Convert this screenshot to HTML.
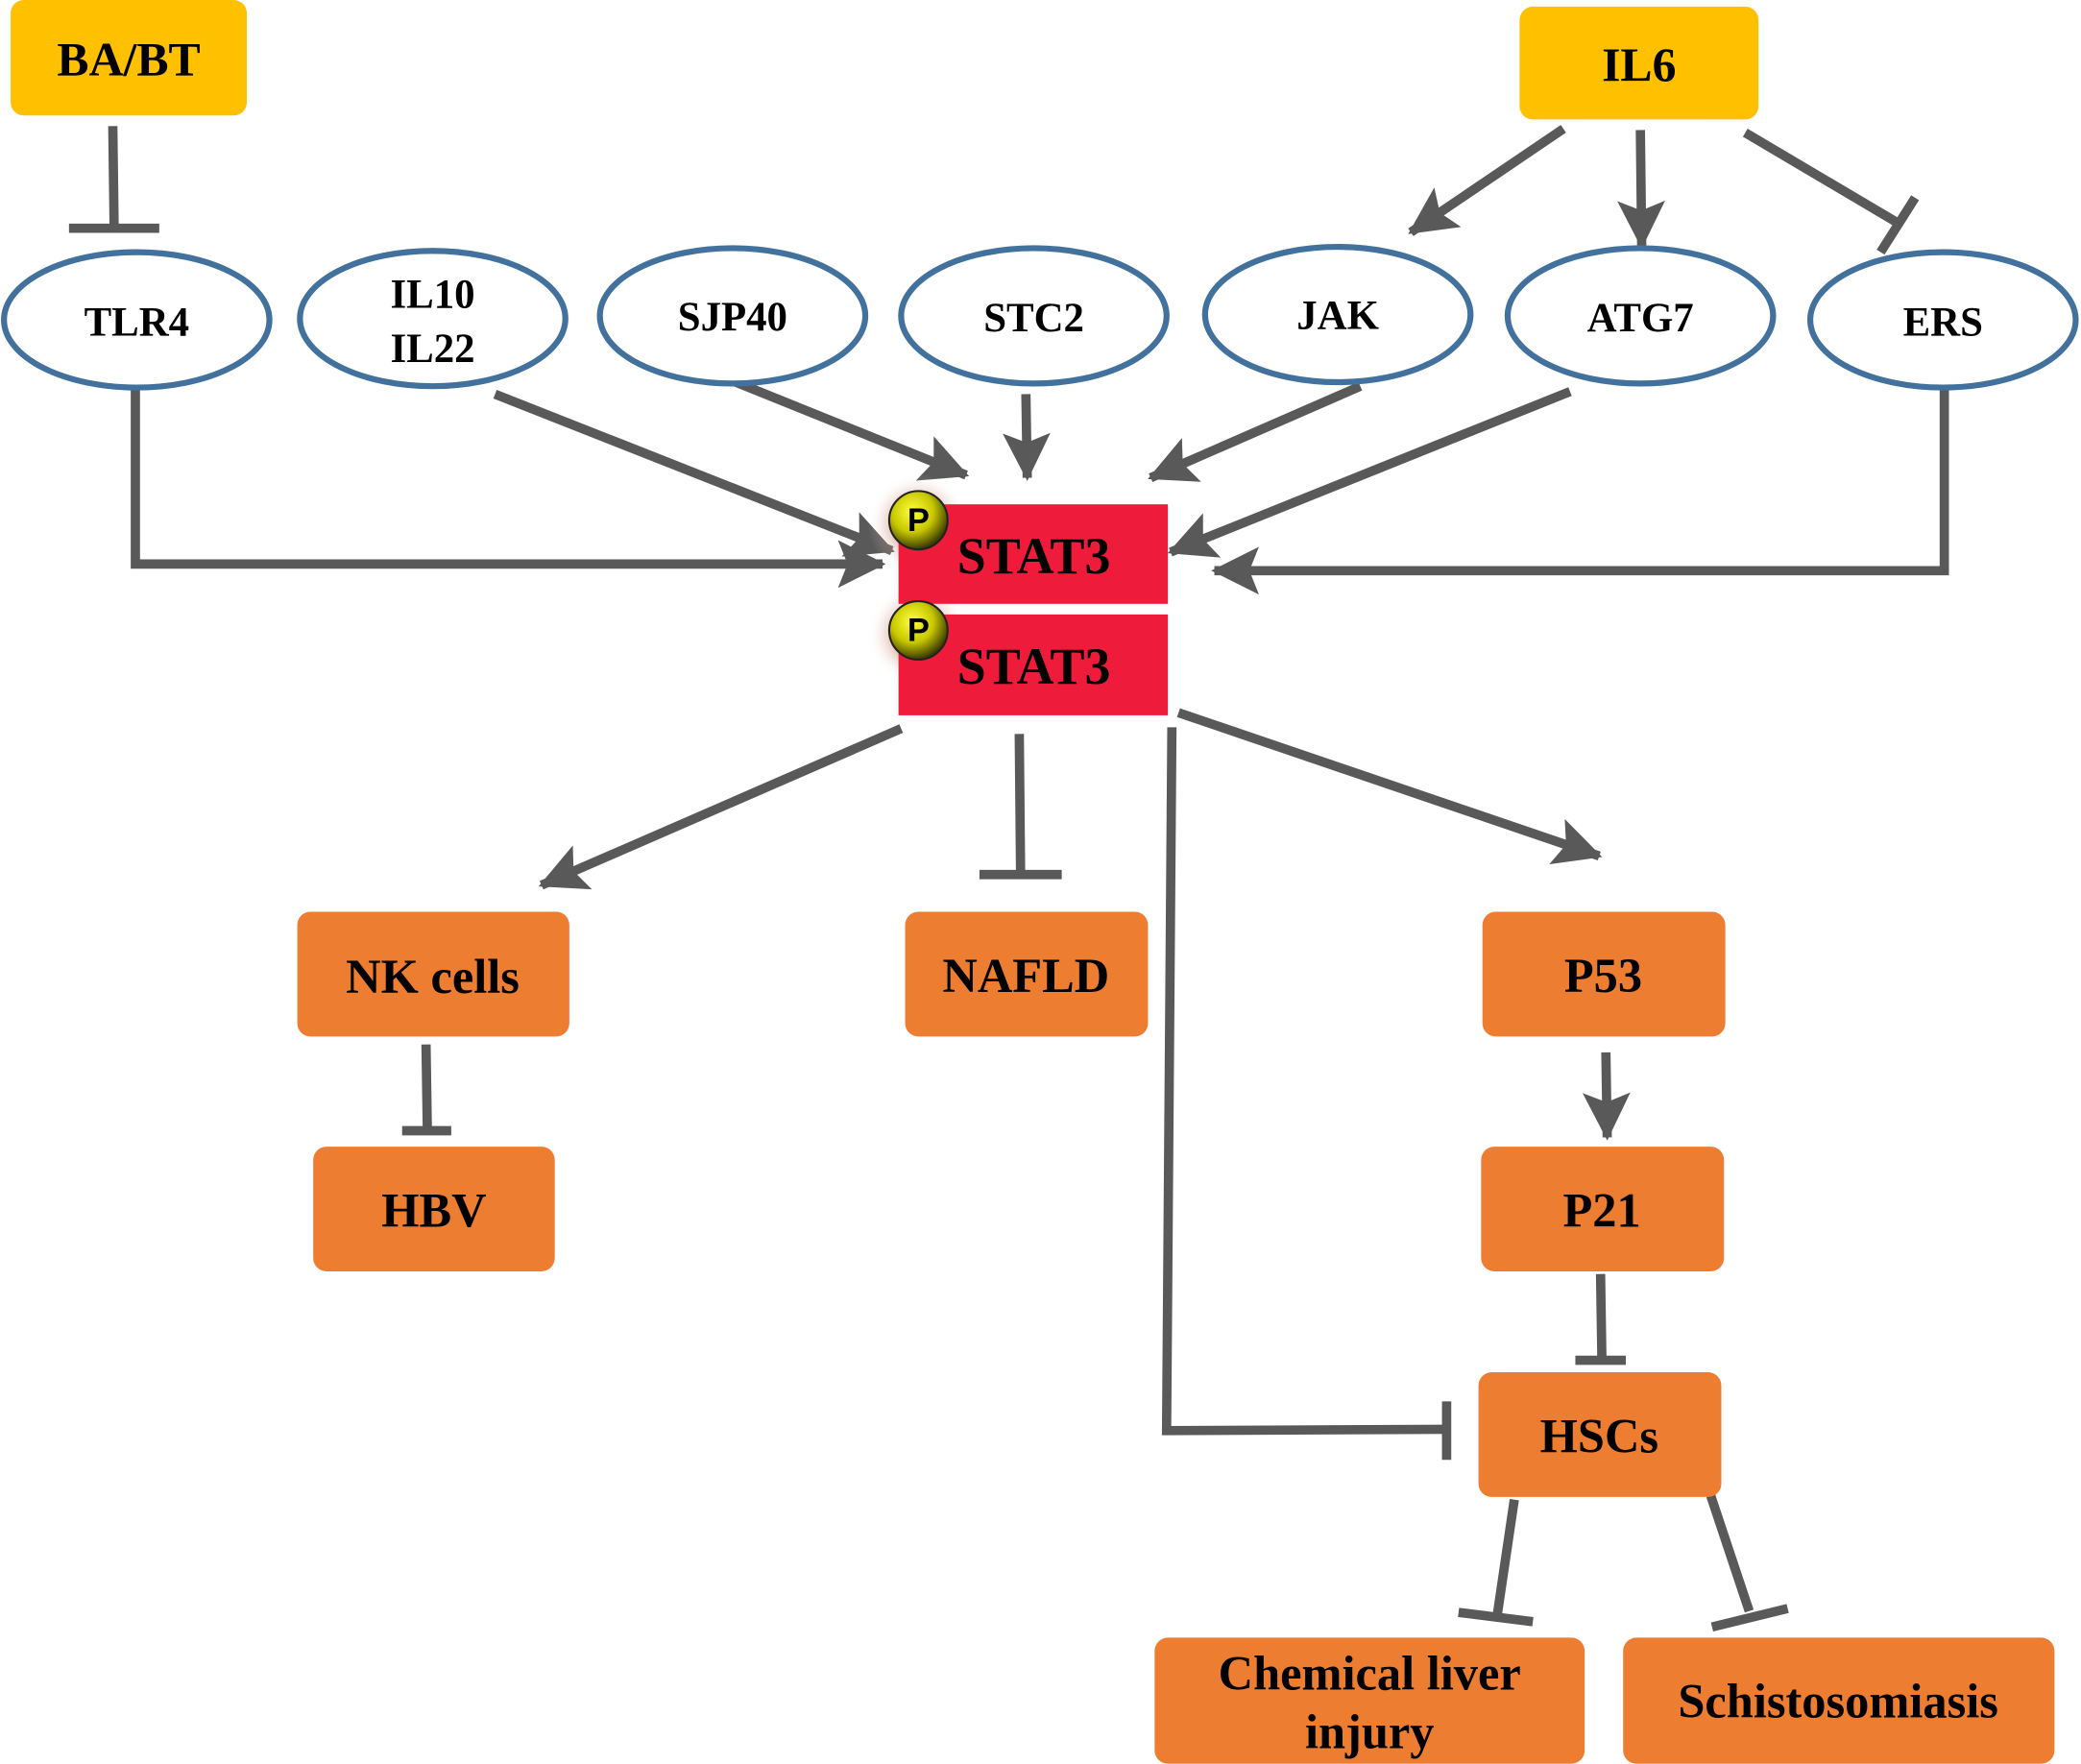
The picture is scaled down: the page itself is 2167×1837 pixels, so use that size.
<!DOCTYPE html>
<html><head><meta charset="utf-8"><style>
html,body{margin:0;padding:0;background:#fff}
svg{display:block}
text{font-family:"Liberation Serif",serif;font-weight:bold;fill:#000;text-anchor:middle;dominant-baseline:central}
</style></head><body>
<svg width="2167" height="1837" viewBox="0 0 1568 1329.2" xmlns="http://www.w3.org/2000/svg">
<defs>
<marker id="a" markerUnits="userSpaceOnUse" markerWidth="36" markerHeight="36" viewBox="0 0 30 30" refX="28" refY="15" orient="auto"><path d="M0,0 L30,15 L0,30 L6,15 Z" fill="#595959"/></marker>
<radialGradient id="pg" cx="40%" cy="35%" r="65%"><stop offset="0" stop-color="#ffff40"/><stop offset="0.55" stop-color="#c8c800"/><stop offset="1" stop-color="#3a3a00"/></radialGradient>
<radialGradient id="glow"><stop offset="0.4" stop-color="#b04020" stop-opacity="0.5"/><stop offset="1" stop-color="#ffffff" stop-opacity="0"/></radialGradient>
</defs>
<g stroke="#595959" stroke-width="7" fill="none">
<line x1="85" y1="95" x2="86" y2="172"/><line x1="52" y1="172" x2="120" y2="172"/>
<polyline points="102,293 102,425 665,425" marker-end="url(#a)"/>
<line x1="373" y1="297" x2="672" y2="415" marker-end="url(#a)"/>
<line x1="552" y1="287" x2="728" y2="358" marker-end="url(#a)"/>
<line x1="773" y1="297" x2="774" y2="360" marker-end="url(#a)"/>
<line x1="1025" y1="291" x2="867" y2="360" marker-end="url(#a)"/>
<line x1="1183" y1="295" x2="882" y2="416" marker-end="url(#a)"/>
<polyline points="1465,293 1465,430 915,430" marker-end="url(#a)"/>
<line x1="1178" y1="97" x2="1063" y2="175" marker-end="url(#a)"/>
<line x1="1236" y1="98" x2="1237" y2="185" marker-end="url(#a)"/>
<line x1="1315" y1="100" x2="1430" y2="168"/><line x1="1443" y1="149" x2="1417" y2="190"/>
<line x1="679" y1="549" x2="408" y2="667" marker-end="url(#a)"/>
<line x1="768" y1="553" x2="769" y2="659"/><line x1="738" y1="659" x2="800" y2="659"/>
<polyline points="883,548 879,1078 1090,1077"/><line x1="1090" y1="1056" x2="1090" y2="1100"/>
<line x1="888" y1="537" x2="1205" y2="645" marker-end="url(#a)"/>
<line x1="321" y1="787" x2="322" y2="852"/><line x1="303" y1="852" x2="340" y2="852"/>
<line x1="1210" y1="793" x2="1211" y2="857" marker-end="url(#a)"/>
<line x1="1206" y1="960" x2="1207" y2="1025"/><line x1="1187" y1="1025" x2="1225" y2="1025"/>
<line x1="1141" y1="1130" x2="1128" y2="1218"/><line x1="1099" y1="1215" x2="1155" y2="1222"/>
<line x1="1289" y1="1127" x2="1318" y2="1214"/><line x1="1290" y1="1226" x2="1347" y2="1212"/>
</g>
<rect x="8" y="0" width="178" height="87" rx="10" fill="#FFC000"/><text x="97" y="45" font-size="36">BA/BT</text>
<rect x="1145" y="5" width="180" height="85" rx="10" fill="#FFC000"/><text x="1235" y="49" font-size="36">IL6</text>
<g fill="#fff" stroke="#41719C" stroke-width="4.5">
<ellipse cx="103" cy="241" rx="100" ry="51"/><ellipse cx="326" cy="240" rx="100" ry="51"/>
<ellipse cx="552" cy="238" rx="100" ry="51"/><ellipse cx="779" cy="238" rx="100" ry="51"/>
<ellipse cx="1008" cy="237" rx="100" ry="51"/><ellipse cx="1236" cy="238" rx="100" ry="51"/>
<ellipse cx="1464" cy="241" rx="100" ry="51"/>
</g>
<g font-size="31">
<text x="103" y="243">TLR4</text><text x="326" y="222">IL10</text><text x="326" y="263">IL22</text>
<text x="552" y="239">SJP40</text><text x="779" y="240">STC2</text><text x="1008" y="238">JAK</text>
<text x="1236" y="240">ATG7</text><text x="1464" y="243">ERS</text>
</g>
<circle cx="692" cy="395" r="38" fill="url(#glow)"/><circle cx="692" cy="478" r="38" fill="url(#glow)"/>
<rect x="677" y="380" width="203" height="75" fill="#EE1C3A"/><rect x="677" y="463" width="203" height="76" fill="#EE1C3A"/>
<text x="779" y="419" font-size="39">STAT3</text><text x="779" y="502" font-size="39">STAT3</text>
<circle cx="692" cy="392" r="22" fill="url(#pg)" stroke="#222" stroke-width="1.5"/>
<circle cx="692" cy="475" r="22" fill="url(#pg)" stroke="#222" stroke-width="1.5"/>
<text x="692" y="392" font-size="25" style="font-family:'Liberation Sans',sans-serif">P</text>
<text x="692" y="475" font-size="25" style="font-family:'Liberation Sans',sans-serif">P</text>
<g fill="#ED7D31">
<rect x="224" y="687" width="205" height="94" rx="10"/><rect x="682" y="687" width="183" height="94" rx="10"/>
<rect x="1117" y="687" width="183" height="94" rx="10"/><rect x="236" y="864" width="182" height="94" rx="10"/>
<rect x="1116" y="864" width="183" height="94" rx="10"/><rect x="1114" y="1034" width="183" height="94" rx="10"/>
<rect x="870" y="1234" width="324" height="95" rx="10"/><rect x="1223" y="1234" width="325" height="95" rx="10"/>
</g>
<g font-size="36.5">
<text x="326" y="736">NK cells</text><text x="773" y="735">NAFLD</text><text x="1208" y="735">P53</text>
<text x="327" y="912">HBV</text><text x="1207" y="912">P21</text><text x="1205" y="1082">HSCs</text>
<text x="1032" y="1261">Chemical liver</text><text x="1032" y="1305">injury</text>
<text x="1385" y="1282">Schistosomiasis</text>
</g>
</svg>
</body></html>
